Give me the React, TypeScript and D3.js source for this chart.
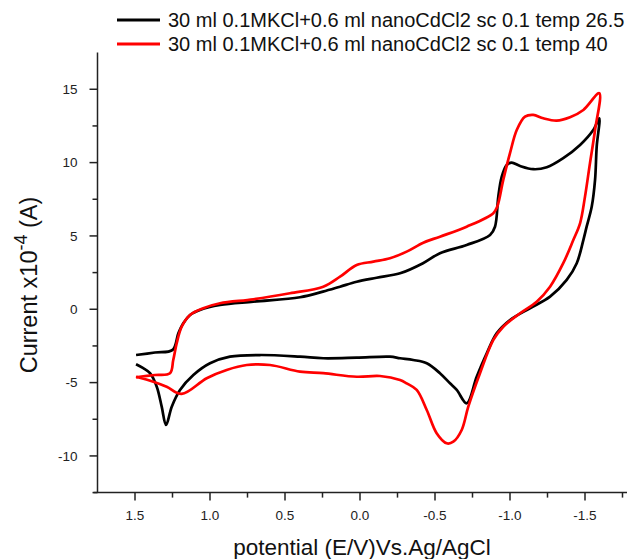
import React from "react";
import * as d3 from "d3";

// Series 1: temp 26.5 (black)
const blackE = [1.493, 1.367, 1.249, 1.211, 1.178, 1.133, 1.067, 0.933, 0.711, 0.4, 0.247, 0.133, 0.022, -0.111, -0.267, -0.42, -0.533, -0.711, -0.867, -0.9, -0.922, -0.945, -0.978, -1.011, -1.067, -1.155, -1.245, -1.355, -1.467, -1.555, -1.595,
  -1.578, -1.567, -1.545, -1.511, -1.489, -1.445, -1.378, -1.267, -1.133, -1.0, -0.911, -0.845, -0.778, -0.711, -0.645, -0.6, -0.533, -0.445, -0.355, -0.267, -0.2, 0.022, 0.245, 0.4, 0.667, 0.867, 1.0, 1.111, 1.2, 1.255, 1.293, 1.322, 1.355, 1.4, 1.445, 1.493];
const blackI = [-3.12, -2.95, -2.77, -1.64, -0.95, -0.39, -0.05, 0.29, 0.52, 0.82, 1.2, 1.54, 1.88, 2.15, 2.45, 3.14, 3.82, 4.38, 5.07, 5.63, 7.68, 9.04, 9.84, 10.0, 9.77, 9.55, 9.68, 10.3, 11.2, 12.22, 13.02,
  11.09, 8.82, 7.0, 5.63, 4.72, 3.14, 2.0, 0.86, 0.07, -0.73, -1.64, -3.0, -4.6, -6.41, -5.5, -5.05, -4.36, -3.68, -3.46, -3.34, -3.23, -3.3, -3.34, -3.23, -3.12, -3.23, -3.68, -4.48, -5.5, -6.64, -7.89, -6.64, -5.28, -4.36, -4.02, -3.75];

// Series 2: temp 40 (red)
const redE = [1.493, 1.367, 1.267, 1.245, 1.222, 1.189, 1.133, 1.045, 0.933, 0.711, 0.467, 0.245, 0.133, 0.022, -0.089, -0.2, -0.311, -0.422, -0.533, -0.711, -0.889, -0.915, -0.955, -1.0, -1.045, -1.1, -1.155, -1.222, -1.311, -1.4, -1.489, -1.595,
  -1.567, -1.533, -1.5, -1.467, -1.422, -1.355, -1.267, -1.178, -1.067, -0.955, -0.889, -0.8, -0.722, -0.678, -0.622, -0.578, -0.511, -0.445, -0.378, -0.311, -0.267, -0.133, 0.022, 0.245, 0.4, 0.6, 0.755, 0.889, 1.022, 1.189, 1.289, 1.378, 1.493];
const redI = [-4.64, -4.48, -4.36, -3.46, -2.32, -1.19, -0.39, 0.07, 0.41, 0.68, 1.09, 1.54, 2.22, 3.02, 3.25, 3.48, 3.93, 4.54, 4.95, 5.63, 6.55, 7.0, 8.82, 10.64, 12.22, 13.13, 13.25, 13.02, 12.86, 13.09, 13.59, 14.73,
  12.22, 9.95, 7.68, 5.86, 4.72, 3.14, 1.54, 0.52, -0.27, -1.19, -2.09, -4.36, -6.64, -8.23, -9.03, -9.14, -8.45, -6.87, -5.5, -5.05, -4.82, -4.55, -4.6, -4.36, -4.25, -3.8, -3.8, -4.14, -4.7, -5.77, -5.28, -4.94, -4.6];

const xTicks = [1.5, 1.0, 0.5, 0.0, -0.5, -1.0, -1.5];
const xTickLabels = ["1.5", "1.0", "0.5", "0.0", "-0.5", "-1.0", "-1.5"];
const xMinor = [1.25, 0.75, 0.25, -0.25, -0.75, -1.25, -1.75];
const yTicks = [-10, -5, 0, 5, 10, 15];
const yTickLabels = ["-10", "-5", "0", "5", "10", "15"];
const yMinor = [-12.5, -7.5, -2.5, 2.5, 7.5, 12.5];

const seriesNames = [
  "30 ml 0.1MKCl+0.6 ml nanoCdCl2 sc 0.1 temp 26.5",
  "30 ml 0.1MKCl+0.6 ml nanoCdCl2 sc 0.1 temp 40",
];
const seriesColors = ["#000000", "#ff0000"];

export default function App() {
  const W = 627, H = 559;
  const x = d3.scaleLinear().domain([1.75, -1.85]).range([97.5, 637.5]);
  const y = d3.scaleLinear().domain([-12.5, 17.5]).range([492.6, 52.6]);
  const line = d3
    .line<[number, number]>()
    .x((d) => x(d[0]))
    .y((d) => y(d[1]))
    .curve(d3.curveCatmullRom.alpha(0.5));
  const series: [number, number][][] = [
    blackE.map((e, i) => [e, blackI[i]] as [number, number]),
    redE.map((e, i) => [e, redI[i]] as [number, number]),
  ];
  const font = "'Liberation Sans', Arial, sans-serif";
  const axisColor = "#222";
  const x0 = x(1.75);
  const yb = y(-12.5);
  return (
    <div style={{ position: "absolute", left: 0, top: 0 }}>
      <svg width={W} height={H} style={{ display: "block", background: "#fff" }} fontFamily={font}>
        {/* curves */}
        {series.map((s, i) => (
          <path key={i} d={line(s) || ""} fill="none" stroke={seriesColors[i]} strokeWidth={2.7} strokeLinejoin="round" />
        ))}
        {/* axes */}
        <line x1={x0} x2={x0} y1={y(17.5)} y2={yb} stroke={axisColor} strokeWidth={1.5} />
        <line x1={x0 - 4} x2={W} y1={yb} y2={yb} stroke={axisColor} strokeWidth={1.5} />
        {yTicks.map((t, i) => (
          <g key={"yt" + i}>
            <line x1={x0 - 8} x2={x0} y1={y(t)} y2={y(t)} stroke={axisColor} strokeWidth={1.5} />
            <text x={x0 - 20} y={y(t)} dy="0.35em" textAnchor="end" fontSize={13.5} fill="#222">
              {yTickLabels[i]}
            </text>
          </g>
        ))}
        {yMinor.map((t, i) => (
          <line key={"ym" + i} x1={x0 - 5} x2={x0} y1={y(t)} y2={y(t)} stroke={axisColor} strokeWidth={1.5} />
        ))}
        {xTicks.map((t, i) => (
          <g key={"xt" + i}>
            <line x1={x(t)} x2={x(t)} y1={yb} y2={yb + 8} stroke={axisColor} strokeWidth={1.5} />
            <text x={x(t)} y={yb + 27} textAnchor="middle" fontSize={13.5} fill="#222">
              {xTickLabels[i]}
            </text>
          </g>
        ))}
        {xMinor.map((t, i) => (
          <line key={"xm" + i} x1={x(t)} x2={x(t)} y1={yb} y2={yb + 5} stroke={axisColor} strokeWidth={1.5} />
        ))}
        {/* axis titles */}
        <text x={x(0) + 2} y={555} textAnchor="middle" fontSize={22.5} fill="#111">
          potential (E/V)Vs.Ag/AgCl
        </text>
        <text transform="translate(37,285) rotate(-90)" textAnchor="middle" fontSize={23.5} fill="#111">
          Current x10<tspan dy="-10" fontSize={18}>-4</tspan><tspan dy="10"> (A)</tspan>
        </text>
        {/* legend */}
        {seriesNames.map((n, i) => (
          <g key={"lg" + i}>
            <line x1={117} x2={160} y1={20 + i * 24} y2={20 + i * 24} stroke={seriesColors[i]} strokeWidth={3} />
            <text x={168} y={27 + i * 24} fontSize={20} fill="#111">
              {n}
            </text>
          </g>
        ))}
      </svg>
    </div>
  );
}
